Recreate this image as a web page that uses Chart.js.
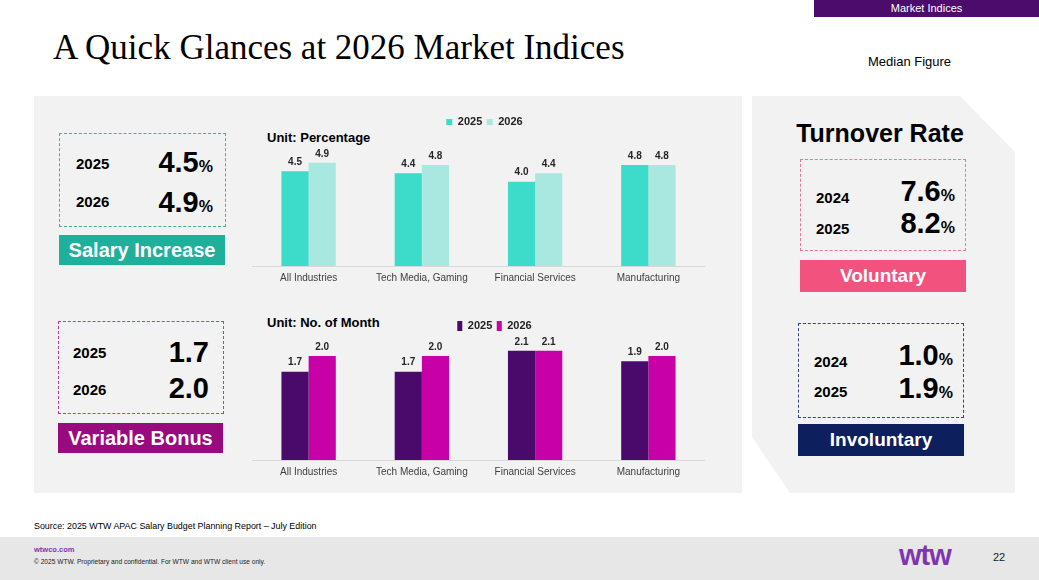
<!DOCTYPE html>
<html>
<head>
<meta charset="utf-8">
<title>A Quick Glances at 2026 Market Indices</title>
<script src="https://cdn.jsdelivr.net/npm/chart.js@4.4.0/dist/chart.umd.min.js"></script>
<style>
  body { margin:0; width:1039px; height:580px; position:relative; overflow:hidden; background:#fff;
         font-family:"Liberation Sans", Arial, sans-serif; color:#000; }
  .a { position:absolute; white-space:nowrap; }
  .tab { left:814px; top:0; width:225px; height:17px; background:#4b0c6b; color:#fff; font-size:11px; line-height:17px; text-align:center; }
  .title { left:53px; top:30px; font-family:"Liberation Serif","Times New Roman",serif; font-size:35px; line-height:35px; }
  .median { left:868px; top:54px; font-size:13px; line-height:16px; }
  .panel { left:34px; top:96px; width:708px; height:397px; background:#f2f2f2; }
  .rpanel { left:752px; top:96px; width:263px; height:397px; background:#f2f2f2;
            clip-path:polygon(0 0,208px 0,263px 56px,263px 397px,38px 397px,0 341px); }
  .dash { box-sizing:border-box; border:1.5px dashed; }
  .yr { font-size:15px; font-weight:bold; line-height:18px; }
  .big { font-size:29px; font-weight:bold; line-height:32px; text-align:right; }
  .big span { font-size:16px; }
  .banner { box-sizing:border-box; color:#fff; font-weight:bold; text-align:center; }
  .unit { left:267px; font-size:13px; font-weight:bold; line-height:16px; }
  .foot { left:0; top:537px; width:1039px; height:43px; background:#e7e7e7; }
  canvas { position:absolute; }
</style>
</head>
<body>

<div class="a tab">Market Indices</div>
<div class="a title">A Quick Glances at 2026 Market Indices</div>
<div class="a median">Median Figure</div>

<div class="a panel"></div>
<div class="a rpanel"></div>

<!-- salary increase summary -->
<div class="a dash" style="left:59px;top:133px;width:167px;height:94px;border-color:#38b5a2;"></div>
<div class="a yr" style="left:76px;top:155px;">2025</div>
<div class="a big" style="left:110px;top:146px;width:103px;">4.5<span>%</span></div>
<div class="a yr" style="left:76px;top:193px;">2026</div>
<div class="a big" style="left:110px;top:186px;width:103px;">4.9<span>%</span></div>
<div class="a banner" style="left:59px;top:235px;width:166px;height:30px;background:#1fb09b;font-size:20px;line-height:30px;">Salary Increase</div>

<!-- variable bonus summary -->
<div class="a dash" style="left:58px;top:321px;width:166px;height:93px;border-color:#b3409c;"></div>
<div class="a yr" style="left:73px;top:344px;">2025</div>
<div class="a big" style="left:110px;top:336px;width:99px;">1.7</div>
<div class="a yr" style="left:73px;top:381px;">2026</div>
<div class="a big" style="left:110px;top:372px;width:99px;">2.0</div>
<div class="a banner" style="left:58px;top:423px;width:165px;height:30px;background:#990a7f;font-size:20px;line-height:30px;">Variable Bonus</div>

<!-- turnover -->
<div class="a" style="left:752px;top:118px;width:256px;text-align:center;font-size:25px;font-weight:bold;line-height:30px;">Turnover Rate</div>

<div class="a dash" style="left:800px;top:159px;width:166px;height:92px;border-color:#e8759a;"></div>
<div class="a yr" style="left:816px;top:189px;">2024</div>
<div class="a big" style="left:860px;top:175px;width:95px;">7.6<span>%</span></div>
<div class="a yr" style="left:816px;top:220px;">2025</div>
<div class="a big" style="left:860px;top:207px;width:95px;">8.2<span>%</span></div>
<div class="a banner" style="left:800px;top:260px;width:166px;height:32px;background:#f2527e;font-size:19px;line-height:32px;">Voluntary</div>

<div class="a dash" style="left:798px;top:323px;width:166px;height:95px;border-color:#34447a;"></div>
<div class="a yr" style="left:814px;top:353px;">2024</div>
<div class="a big" style="left:858px;top:339px;width:95px;">1.0<span>%</span></div>
<div class="a yr" style="left:814px;top:383px;">2025</div>
<div class="a big" style="left:858px;top:372px;width:95px;">1.9<span>%</span></div>
<div class="a banner" style="left:798px;top:424px;width:166px;height:32px;background:#0d1f5c;font-size:19px;line-height:32px;">Involuntary</div>

<!-- charts -->
<div class="a unit" style="top:130px;">Unit: Percentage</div>
<canvas id="salaryChart" width="453" height="179" style="left:252px;top:112px;width:453px;height:179px;"></canvas>

<div class="a unit" style="top:315px;">Unit: No. of Month</div>
<canvas id="bonusChart" width="453" height="169" style="left:252px;top:316px;width:453px;height:169px;"></canvas>

<div class="a" style="left:34px;top:520px;font-size:8.9px;line-height:12px;">Source: 2025 WTW APAC Salary Budget Planning Report – July Edition</div>

<div class="a foot"></div>
<div class="a" style="left:34px;top:545px;font-size:7.5px;font-weight:bold;line-height:10px;color:#7f35b2;">wtwco.com</div>
<div class="a" style="left:34px;top:557px;font-size:6.6px;line-height:10px;color:#222;">© 2025 WTW. Proprietary and confidential. For WTW and WTW client use only.</div>
<div class="a" style="left:899px;top:538px;font-size:29px;font-weight:bold;line-height:34px;color:#7f35b2;letter-spacing:-1px;">wtw</div>
<div class="a" style="left:993px;top:551px;font-size:11px;line-height:13px;color:#222;">22</div>

<script>
// industries shown on both charts
const industries = ['All Industries', 'Tech Media, Gaming', 'Financial Services', 'Manufacturing'];

// salary increase, percentage
const salary2025 = [4.5, 4.4, 4.0, 4.8];
const salary2026 = [4.9, 4.8, 4.4, 4.8];

// variable bonus, no. of months
const bonus2025 = [1.7, 1.7, 2.1, 1.9];
const bonus2026 = [2.0, 2.0, 2.1, 2.0];

const FONT = '"Liberation Sans", Arial, sans-serif';

// small plugin: value written above each bar
const barValues = {
    id: 'barValues',
    afterDatasetsDraw(chart) {
        const ctx = chart.ctx;
        ctx.save();
        ctx.font = 'bold 10px ' + FONT;
        ctx.fillStyle = '#262626';
        ctx.textAlign = 'center';
        ctx.textBaseline = 'bottom';
        chart.data.datasets.forEach((ds, i) => {
            chart.getDatasetMeta(i).data.forEach((bar, j) => {
                ctx.fillText(ds.data[j].toFixed(1), bar.x, bar.y - 4);
            });
        });
        ctx.restore();
    }
};

// legend sits a bit right of centre on the slide
const legendShift = {
    id: 'legendShift',
    afterLayout(chart, args, opts) {
        if (chart.legend) {
            chart.legend.left += opts.dx;
            chart.legend.right += opts.dx;
        }
    }
};

function makeBarChart(id, series, colors, yMax, box, dx) {
    const ctx = document.getElementById(id).getContext('2d');
    return new Chart(ctx, {
        type: 'bar',
        data: {
            labels: industries,
            datasets: [
                { label: '2025', data: series[0], backgroundColor: colors[0], borderWidth: 0 },
                { label: '2026', data: series[1], backgroundColor: colors[1], borderWidth: 0 }
            ]
        },
        options: {
            responsive: false,
            animation: false,
            devicePixelRatio: 1,
            categoryPercentage: 0.48,
            barPercentage: 1,
            layout: { padding: 0 },
            plugins: {
                legendShift: { dx: dx },
                legend: {
                    position: 'top',
                    labels: {
                        boxWidth: box[0],
                        boxHeight: box[1],
                        padding: 4.5,
                        color: '#222',
                        font: { family: FONT, size: 11, weight: 'bold' }
                    }
                },
                tooltip: { enabled: false }
            },
            scales: {
                x: {
                    grid: { display: false, drawTicks: false },
                    border: { display: true, color: '#d9d9d9', width: 1 },
                    ticks: { color: '#404040', padding: 6.5, font: { family: FONT, size: 10 } }
                },
                y: {
                    display: false,
                    min: 0,
                    max: yMax
                }
            }
        },
        plugins: [barValues, legendShift]
    });
}

makeBarChart('salaryChart', [salary2025, salary2026], ['#3ddbc9', '#a8e8e1'], 6.1, [6, 6], 6);
makeBarChart('bonusChart', [bonus2025, bonus2026], ['#4a0a6b', '#c800a8'], 2.28, [5, 10], 16);
</script>
</body>
</html>
